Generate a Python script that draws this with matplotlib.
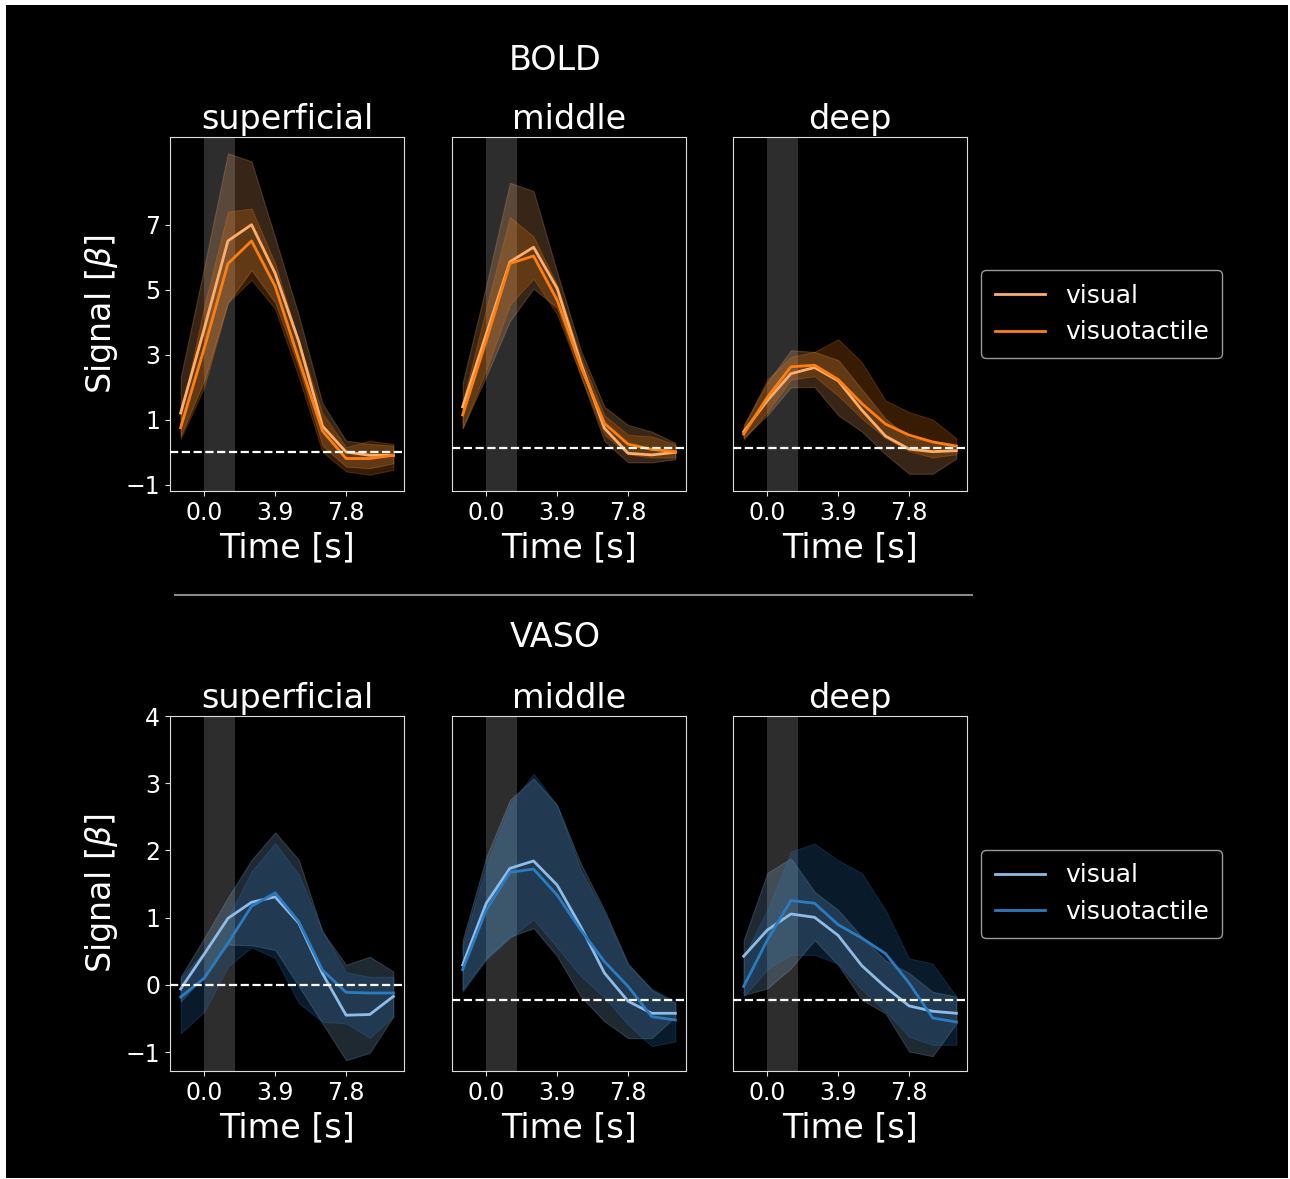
import matplotlib.pyplot as plt
from matplotlib.patches import Rectangle
from matplotlib.lines import Line2D

# time points of the event-related average (s)
time = [-1.3, 0.0, 1.3, 2.6, 3.9, 5.2, 6.5, 7.8, 9.1, 10.4]
stim_end = 1.7
layers = ['superficial', 'middle', 'deep']
conditions = ['visual', 'visuotactile']

# BOLD, one list per layer (superficial, middle, deep)
bold_vis = [[1.2, 3.8, 6.5, 7.0, 5.5, 3.4, 0.8, 0.0, -0.1, -0.1],
            [1.26, 3.5, 5.72, 6.17, 4.9, 2.6, 0.6, -0.17, -0.22, -0.14],
            [0.49, 1.45, 2.28, 2.47, 2.06, 1.16, 0.36, -0.04, -0.12, -0.09]]
bold_vis_lo = [[0.5, 2.2, 4.6, 5.6, 4.6, 2.6, 0.2, -0.45, -0.5, -0.35],
               [0.6, 2.2, 3.9, 4.9, 4.3, 2.2, 0.2, -0.45, -0.45, -0.35],
               [0.3, 1.0, 1.86, 1.87, 1.0, 0.5, -0.2, -0.8, -0.8, -0.33]]
bold_vis_hi = [[2.3, 5.7, 9.2, 8.95, 6.6, 4.2, 1.5, 0.35, 0.25, 0.2],
               [2.0, 5.0, 8.15, 7.9, 5.4, 3.0, 1.26, 0.7, 0.5, 0.15],
               [0.7, 2.0, 3.0, 2.95, 2.7, 1.8, 0.9, 0.3, 0.2, 0.1]]
bold_vt = [[0.75, 3.2, 5.8, 6.5, 5.1, 2.85, 0.65, -0.2, -0.2, -0.1],
           [1.01, 3.3, 5.67, 5.9, 4.54, 2.5, 0.75, 0.11, -0.05, -0.12],
           [0.42, 1.55, 2.49, 2.54, 2.1, 1.36, 0.73, 0.39, 0.18, 0.05]]
bold_vt_lo = [[0.4, 2.0, 4.6, 5.3, 4.4, 2.3, 0.0, -0.6, -0.7, -0.55],
              [0.6, 2.4, 4.4, 5.2, 4.1, 2.2, 0.4, -0.2, -0.3, -0.3],
              [0.25, 1.1, 2.1, 2.2, 1.6, 0.9, 0.3, -0.1, -0.3, -0.2]]
bold_vt_hi = [[1.1, 4.5, 7.4, 7.5, 5.8, 3.4, 1.2, 0.15, 0.35, 0.25],
              [1.4, 4.3, 7.1, 6.5, 5.0, 2.8, 1.0, 0.4, 0.35, 0.1],
              [0.65, 2.1, 2.8, 2.95, 3.34, 2.63, 1.46, 1.1, 0.87, 0.29]]

# VASO
vaso_vis = [[-0.06, 0.46, 0.99, 1.23, 1.31, 0.92, 0.17, -0.45, -0.44, -0.17],
            [0.52, 1.44, 1.96, 2.07, 1.71, 1.09, 0.40, -0.02, -0.20, -0.20],
            [0.65, 1.04, 1.28, 1.23, 0.96, 0.51, 0.19, -0.09, -0.17, -0.20]]
vaso_vis_lo = [[-0.25, 0.15, 0.6, 0.59, 0.52, -0.02, -0.57, -1.12, -1.01, -0.47],
               [0.15, 0.62, 0.94, 1.07, 0.65, 0.05, -0.32, -0.57, -0.57, -0.25],
               [0.07, 0.17, 0.47, 0.89, 0.52, 0.0, -0.20, -0.77, -0.84, -0.35]]
vaso_vis_hi = [[0.12, 0.7, 1.3, 1.86, 2.27, 1.86, 0.79, 0.30, 0.42, 0.20],
               [0.89, 2.13, 2.98, 3.30, 2.90, 2.03, 1.34, 0.54, 0.15, -0.05],
               [0.89, 1.89, 2.11, 1.61, 1.34, 0.94, 0.59, 0.40, 0.12, 0.05]]
vaso_vt = [[-0.18, 0.10, 0.62, 1.17, 1.37, 0.94, 0.22, -0.11, -0.12, -0.12],
           [0.45, 1.34, 1.90, 1.95, 1.56, 1.04, 0.57, 0.20, -0.25, -0.30],
           [0.20, 0.89, 1.48, 1.44, 1.12, 0.92, 0.69, 0.25, -0.27, -0.33]]
vaso_vt_lo = [[-0.72, -0.40, 0.27, 0.56, 0.40, -0.27, -0.55, -0.57, -0.79, -0.47],
              [0.12, 0.60, 0.92, 1.20, 0.78, 0.35, 0.03, -0.37, -0.69, -0.62],
              [0.05, 0.45, 0.67, 0.67, 0.54, 0.15, -0.17, -0.55, -0.67, -0.67]]
vaso_vt_hi = [[0.1, 0.5, 1.0, 1.69, 2.11, 1.64, 0.81, 0.19, 0.12, 0.12],
              [0.8, 2.0, 2.9, 3.37, 2.90, 1.93, 1.29, 0.52, 0.17, -0.02],
              [0.64, 1.34, 2.21, 2.33, 2.08, 1.89, 1.34, 0.62, 0.54, 0.05]]

bold_colors = ['#fdae6b', '#ff7f0e']
vaso_colors = ['#8fbbe6', '#2b7bc0']

plt.style.use('dark_background')
W, H = 1290, 1179
fig = plt.figure(figsize=(W / 100, H / 100), dpi=100, facecolor='white')
fig.add_artist(Rectangle((6 / W, 1 / H), 1282 / W, 1173 / H, transform=fig.transFigure,
                         facecolor='black', edgecolor='none', zorder=0))

col_x = [170, 452, 733]
ax_w = 234


def panel(left, top, bottom):
    return fig.add_axes([left / W, 1 - bottom / H, ax_w / W, (bottom - top) / H])


rows = [
    ('BOLD', 137, 491, bold_colors, [(-1.2, 9.7), (-1.33, 9.56), (-1.33, 9.56)], [-1, 1, 3, 5, 7],
     [(bold_vis, bold_vis_lo, bold_vis_hi), (bold_vt, bold_vt_lo, bold_vt_hi)]),
    ('VASO', 716, 1071, vaso_colors, [(-1.28, 4.0), (-1.06, 4.23), (-1.06, 4.23)], [-1, 0, 1, 2, 3, 4],
     [(vaso_vis, vaso_vis_lo, vaso_vis_hi), (vaso_vt, vaso_vt_lo, vaso_vt_hi)]),
]

for name, top, bottom, colors, ylims, yticks, series in rows:
    for j, layer in enumerate(layers):
        ax = panel(col_x[j], top, bottom)
        ax.set_facecolor('black')
        ax.axvspan(0, stim_end, color='white', alpha=0.18, lw=0, zorder=0)
        for (mean, lo, hi), c, lab in zip(series, colors, conditions):
            ax.fill_between(time, lo[j], hi[j], color=c, alpha=0.22, lw=0.8, zorder=1)
        for (mean, lo, hi), c, lab in zip(series, colors, conditions):
            ax.plot(time, mean[j], color=c, lw=2, label=lab, zorder=3)
        ax.axhline(0, color='white', ls='--', lw=1.6, zorder=4)
        ax.set_ylim(*ylims[j])
        ax.set_xticks([0, 3.9, 7.8])
        ax.set_xticklabels(['0.0', '3.9', '7.8'])
        ax.tick_params(labelsize=17, color='#dddddd')
        ax.set_xlabel('Time [s]', fontsize=24, labelpad=5)
        ax.set_title(layer, fontsize=24)
        for s in ax.spines.values():
            s.set_color('#dddddd')
        if j == 0:
            ax.set_yticks(yticks)
            ax.set_ylabel(r'Signal [$\beta$]', fontsize=24)
        else:
            ax.set_yticks([])
        if j == 2:
            leg = ax.legend(loc='center left', bbox_to_anchor=(1 + 14 / ax_w, 0.5),
                            borderaxespad=0, fontsize=18, facecolor='black',
                            edgecolor='#999999', framealpha=1, borderpad=0.55)
    fig.text(555 / W, 1 - (60 if name == 'BOLD' else 638) / H, name,
             fontsize=24, ha='center', va='center', color='white')

# divider between the two contrasts
fig.add_artist(Line2D([175 / W, 972 / W], [1 - 595 / H] * 2, color='#888888', lw=1.5,
                      transform=fig.transFigure))

fig.savefig('out.png', dpi=100, facecolor='white')
